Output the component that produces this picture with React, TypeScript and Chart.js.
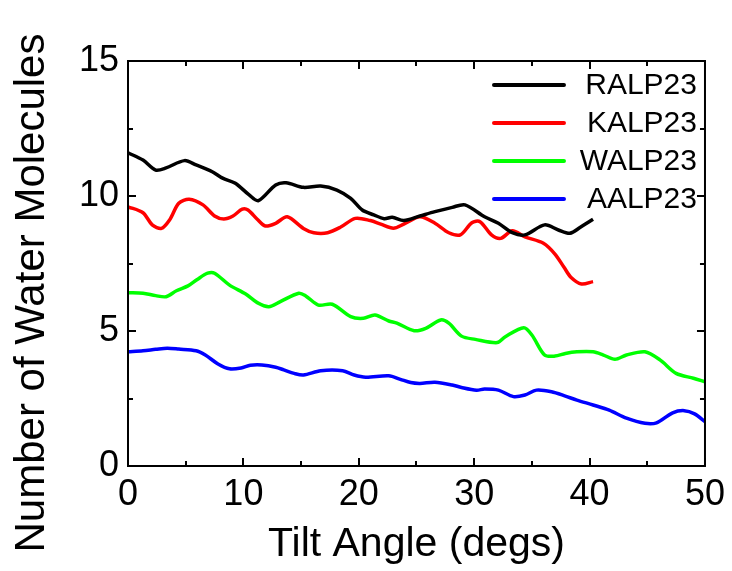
import React, { useEffect, useRef } from "react";
import { Chart, registerables } from "chart.js";

Chart.register(...registerables);

// ---- Data ----
const seriesNames = ["RALP23", "KALP23", "WALP23", "AALP23"];
const seriesColors = ["#000000", "#ff0000", "#00ff00", "#0000ff"];

const ralpX = [0, 1.3, 2.4, 3.3, 4.9, 5.9, 7.3, 8.2, 9.3, 10.5, 11.3, 12.8, 13.7, 15.2, 16.7, 18.1, 19.3, 20.3, 21.3, 22.2, 22.9, 23.9, 25.3, 26.6, 28.1, 29.2, 30.9, 32.1, 33.3, 34.4, 36.1, 37.3, 38.3, 39.2, 40.3];
const ralpY = [11.6, 11.33, 10.96, 11.04, 11.31, 11.15, 10.9, 10.66, 10.47, 10.04, 9.83, 10.41, 10.49, 10.32, 10.37, 10.22, 9.91, 9.48, 9.3, 9.16, 9.21, 9.09, 9.26, 9.42, 9.58, 9.67, 9.23, 8.99, 8.64, 8.56, 8.93, 8.74, 8.62, 8.84, 9.14];

const kalpX = [0, 1.3, 2.1, 2.9, 3.6, 4.4, 5.3, 6.5, 7.5, 8.3, 9.1, 9.9, 10.4, 11.2, 11.9, 12.8, 13.8, 15.2, 16.1, 17.3, 18.4, 19.7, 21.0, 21.9, 23.0, 23.9, 25.3, 26.6, 27.8, 28.8, 29.8, 30.5, 31.5, 32.3, 33.3, 34.4, 36.0, 37.0, 37.8, 38.4, 39.3, 40.3];
const kalpY = [9.6, 9.38, 8.93, 8.8, 9.11, 9.73, 9.88, 9.67, 9.26, 9.15, 9.26, 9.51, 9.48, 9.14, 8.89, 8.99, 9.23, 8.8, 8.64, 8.64, 8.84, 9.17, 9.09, 8.96, 8.81, 8.96, 9.23, 8.99, 8.64, 8.56, 9.01, 9.05, 8.56, 8.43, 8.71, 8.49, 8.25, 7.85, 7.35, 6.98, 6.74, 6.83];

const walpX = [0, 1.3, 2.4, 3.3, 4.2, 5.2, 6.0, 6.9, 7.5, 8.8, 10.2, 11.2, 12.2, 13.2, 14.8, 15.4, 16.5, 17.7, 19.3, 20.4, 21.4, 22.6, 23.3, 24.8, 25.8, 27.1, 27.8, 28.9, 30.1, 32.0, 32.7, 34.3, 35.0, 36.1, 37.0, 37.9, 38.9, 40.3, 41.2, 42.2, 43.2, 44.8, 46.1, 47.5, 49.0, 50];
const walpY = [6.42, 6.4, 6.31, 6.27, 6.49, 6.67, 6.91, 7.14, 7.14, 6.7, 6.37, 6.05, 5.9, 6.09, 6.4, 6.3, 5.96, 5.99, 5.53, 5.47, 5.59, 5.37, 5.29, 5.01, 5.1, 5.41, 5.29, 4.81, 4.69, 4.57, 4.79, 5.12, 4.85, 4.11, 4.07, 4.17, 4.23, 4.23, 4.11, 3.95, 4.11, 4.23, 3.93, 3.43, 3.25, 3.12];

const aalpX = [0, 1.3, 2.4, 3.4, 4.4, 5.9, 6.7, 7.8, 8.8, 9.8, 10.6, 11.6, 12.8, 13.5, 14.4, 15.2, 16.7, 18.6, 19.6, 20.6, 22.6, 23.6, 24.5, 25.3, 26.6, 28.1, 28.9, 30.2, 30.9, 32.1, 33.4, 34.4, 35.4, 36.7, 37.9, 38.9, 40.3, 41.7, 43.2, 44.8, 45.8, 47.2, 48.2, 49.1, 50];
const aalpY = [4.23, 4.27, 4.32, 4.36, 4.33, 4.27, 4.11, 3.78, 3.6, 3.63, 3.73, 3.74, 3.66, 3.56, 3.43, 3.37, 3.53, 3.53, 3.37, 3.29, 3.34, 3.21, 3.09, 3.06, 3.1, 3.0, 2.91, 2.81, 2.85, 2.81, 2.57, 2.63, 2.81, 2.75, 2.59, 2.44, 2.26, 2.07, 1.77, 1.58, 1.6, 1.97, 2.05, 1.93, 1.64];

const xMin = 0;
const xMax = 50;
const xStep = 10;
const yMin = 0;
const yMax = 15;
const yStep = 5;
const xTitle = "Tilt Angle (degs)";
const yTitle = "Number of Water Molecules";

const FONT = "'Liberation Sans', Arial, sans-serif";

function toPoints(xs: number[], ys: number[]) {
  return xs.map((x, i) => ({ x, y: ys[i] }));
}

// Frame, inward major/minor ticks, mirrored on top/right
const frameTicksPlugin = {
  id: "frameTicks",
  afterDraw(chart: any) {
    const { ctx, chartArea: a, scales } = chart;
    const xs = scales.x;
    const ys = scales.y;
    ctx.save();
    ctx.strokeStyle = "#000";
    ctx.lineWidth = 2;
    ctx.lineCap = "butt";
    ctx.strokeRect(a.left, a.top, a.right - a.left, a.bottom - a.top);
    const major = 8;
    const minor = 5;
    ctx.beginPath();
    const xv: number[] = xs.ticks.map((t: any) => t.value);
    for (let i = 0; i < xv.length; i++) {
      const vals = [{ v: xv[i], l: major }];
      if (i < xv.length - 1) vals.push({ v: (xv[i] + xv[i + 1]) / 2, l: minor });
      for (const { v, l } of vals) {
        const p = Math.round(xs.getPixelForValue(v));
        ctx.moveTo(p, a.bottom);
        ctx.lineTo(p, a.bottom - l);
        ctx.moveTo(p, a.top);
        ctx.lineTo(p, a.top + l);
      }
    }
    const yv: number[] = ys.ticks.map((t: any) => t.value);
    for (let i = 0; i < yv.length; i++) {
      const vals = [{ v: yv[i], l: major }];
      if (i < yv.length - 1) vals.push({ v: (yv[i] + yv[i + 1]) / 2, l: minor });
      for (const { v, l } of vals) {
        const p = Math.round(ys.getPixelForValue(v));
        ctx.moveTo(a.left, p);
        ctx.lineTo(a.left + l, p);
        ctx.moveTo(a.right, p);
        ctx.lineTo(a.right - l, p);
      }
    }
    ctx.stroke();
    ctx.restore();
  },
};

// Legend inside the plot area (top right), line sample then right-aligned label
const insideLegendPlugin = {
  id: "insideLegend",
  afterDraw(chart: any) {
    const { ctx, chartArea: a } = chart;
    ctx.save();
    ctx.font = `30px ${FONT}`;
    ctx.textAlign = "right";
    ctx.textBaseline = "middle";
    chart.data.datasets.forEach((ds: any, i: number) => {
      const yy = a.top + 24 + i * 38;
      ctx.strokeStyle = ds.borderColor;
      ctx.lineWidth = 4;
      ctx.lineCap = "round";
      ctx.beginPath();
      ctx.moveTo(a.right - 211, yy);
      ctx.lineTo(a.right - 141, yy);
      ctx.stroke();
      ctx.fillStyle = "#000";
      ctx.fillText(ds.label, a.right - 8, yy + 1);
    });
    ctx.restore();
  },
};

// Y axis title (rotated)
const yTitlePlugin = {
  id: "yTitle",
  afterDraw(chart: any) {
    const { ctx } = chart;
    ctx.save();
    ctx.translate(32, 293);
    ctx.rotate(-Math.PI / 2);
    ctx.font = `42px ${FONT}`;
    ctx.fillStyle = "#000";
    ctx.textAlign = "center";
    ctx.textBaseline = "middle";
    ctx.fillText(yTitle, 0, 0);
    ctx.restore();
  },
};

export default function App() {
  const canvasRef = useRef<HTMLCanvasElement | null>(null);

  useEffect(() => {
    const xsAll = [ralpX, kalpX, walpX, aalpX];
    const ysAll = [ralpY, kalpY, walpY, aalpY];
    const chart = new Chart(canvasRef.current as HTMLCanvasElement, {
      type: "line",
      data: {
        datasets: seriesNames.map((name, i) => ({
          label: name,
          data: toPoints(xsAll[i], ysAll[i]),
          borderColor: seriesColors[i],
          backgroundColor: seriesColors[i],
          borderWidth: 3.5,
          pointRadius: 0,
          tension: 0.3,
          fill: false,
        })),
      },
      options: {
        responsive: false,
        animation: false,
        events: [],
        layout: { padding: { left: 0, top: 61, right: 27, bottom: 0 } },
        plugins: {
          legend: { display: false },
          tooltip: { enabled: false },
        },
        scales: {
          x: {
            type: "linear",
            min: xMin,
            max: xMax,
            grid: { display: false, drawTicks: false },
            border: { display: false },
            ticks: {
              stepSize: xStep,
              padding: 7,
              maxRotation: 0,
              autoSkip: false,
              color: "#000",
              font: { family: FONT, size: 36 },
            },
            title: {
              display: true,
              text: xTitle,
              color: "#000",
              font: { family: FONT, size: 41 },
              padding: { top: 0, bottom: 2 },
            },
            afterFit: (s: any) => {
              s.height = 105;
            },
          },
          y: {
            type: "linear",
            min: yMin,
            max: yMax,
            grid: { display: false, drawTicks: false },
            border: { display: false },
            ticks: {
              stepSize: yStep,
              padding: 9,
              color: "#000",
              font: { family: FONT, size: 36 },
            },
            afterFit: (s: any) => {
              s.width = 128;
            },
          },
        },
      },
      plugins: [frameTicksPlugin, insideLegendPlugin, yTitlePlugin],
    } as any);
    return () => chart.destroy();
  }, []);

  return (
    <div style={{ position: "absolute", left: 0, top: 0, width: 732, height: 571, background: "#fff" }}>
      <canvas ref={canvasRef} width={732} height={571} style={{ display: "block" }} />
    </div>
  );
}
